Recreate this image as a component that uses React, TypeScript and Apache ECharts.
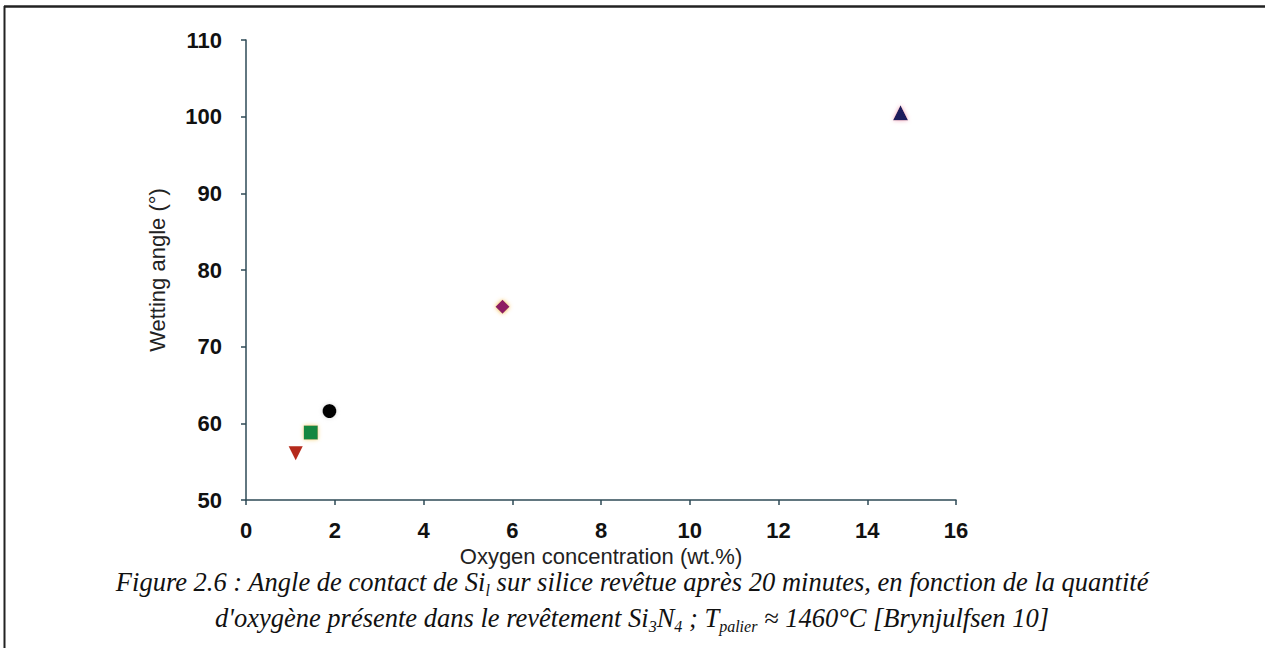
import React, { useEffect, useRef } from "react";
import * as echarts from "echarts";

const xTicks = [0, 2, 4, 6, 8, 10, 12, 14, 16];
const yTicks = [50, 60, 70, 80, 90, 100, 110];

const seriesNames = ["invTriangle", "square", "circle", "diamond", "triangle"];
const xValues = [1.12, 1.46, 1.88, 5.78, 14.75];
const yValues = [56.1, 58.8, 61.6, 75.2, 100.5];
const symbols = ["triangle", "rect", "circle", "diamond", "triangle"];
const rotations = [180, 0, 0, 0, 0];
const sizes = [14, 14, 14, 14, 15];
const colors = ["#b52a1f", "#13873f", "#050505", "#8e1b63", "#1b1c5c"];
const glows = ["#f2a08c", "#f5d27a", "#d8d8d8", "#f5b33a", "#f2a0b8"];

const xAxisName = "Oxygen concentration (wt.%)";
const yAxisName = "Wetting angle (°)";

export default function App() {
  const ref = useRef<HTMLDivElement>(null);
  useEffect(() => {
    const chart = echarts.init(ref.current!, null, { renderer: "svg" });
    const axisColor = "#2e4a56";
    const serif = "Liberation Serif, Times New Roman";
    const sans = "Liberation Sans, Arial";
    chart.setOption({
      animation: false,
      backgroundColor: "#ffffff",
      grid: { left: 246, top: 40, right: 309, bottom: 148, containLabel: false },
      xAxis: {
        type: "value",
        min: 0,
        max: 16,
        interval: 2,
        name: xAxisName,
        nameLocation: "middle",
        nameGap: 41,
        nameTextStyle: { fontFamily: sans, fontSize: 22, color: "#222" },
        axisLine: { show: true, onZero: false, lineStyle: { color: axisColor, width: 1.5 } },
        axisTick: { show: true, inside: false, length: 5, lineStyle: { color: axisColor, width: 1.5 } },
        axisLabel: {
          formatter: (v: number) => (xTicks.includes(v) ? String(v) : ""),
          fontFamily: sans,
          fontWeight: "bold",
          fontSize: 22,
          color: "#111",
          margin: 19,
        },
        splitLine: { show: false },
      },
      yAxis: {
        type: "value",
        min: 50,
        max: 110,
        interval: 10,
        name: yAxisName,
        nameLocation: "middle",
        nameGap: 78,
        nameTextStyle: { fontFamily: sans, fontSize: 22, color: "#222" },
        axisLine: { show: true, onZero: false, lineStyle: { color: axisColor, width: 1.5 } },
        axisTick: { show: true, inside: false, length: 5, lineStyle: { color: axisColor, width: 1.5 } },
        axisLabel: {
          formatter: (v: number) => (yTicks.includes(v) ? String(v) : ""),
          fontFamily: sans,
          fontWeight: "bold",
          fontSize: 22,
          color: "#111",
          margin: 24,
        },
        splitLine: { show: false },
      },
      series: seriesNames.map((name, i) => ({
        name,
        type: "scatter",
        symbol: symbols[i],
        symbolRotate: rotations[i],
        symbolSize: sizes[i],
        itemStyle: {
          color: colors[i],
          opacity: 1,
          shadowColor: glows[i],
          shadowBlur: 4,
        },
        data: [[xValues[i], yValues[i]]],
      })),
      graphic: [
        {
          type: "line",
          shape: { x1: 4, y1: 6.5, x2: 1265, y2: 6.5 },
          style: { stroke: "#222", lineWidth: 2.5 },
        },
        {
          type: "line",
          shape: { x1: 4.5, y1: 6, x2: 4.5, y2: 648 },
          style: { stroke: "#222", lineWidth: 2 },
        },
        {
          type: "text",
          x: 632,
          y: 582,
          style: {
            text: "{m|Figure 2.6 : Angle de contact de Si}{s|l}{m| sur silice revêtue après 20 minutes, en fonction de la quantité}",
            align: "center",
            verticalAlign: "middle",
            fill: "#111",
            rich: {
              m: { fontFamily: serif, fontStyle: "italic", fontSize: 26.5, lineHeight: 32, verticalAlign: "middle", fill: "#111" },
              s: { fontFamily: serif, fontStyle: "italic", fontSize: 16, lineHeight: 22, verticalAlign: "bottom", fill: "#111" },
            },
          },
        },
        {
          type: "text",
          x: 632,
          y: 618,
          style: {
            text: "{m|d'oxygène présente dans le revêtement Si}{s|3}{m|N}{s|4}{m| ; T}{s|palier}{m| ≈ 1460°C [Brynjulfsen 10]}",
            align: "center",
            verticalAlign: "middle",
            fill: "#111",
            rich: {
              m: { fontFamily: serif, fontStyle: "italic", fontSize: 26.5, lineHeight: 32, verticalAlign: "middle", fill: "#111" },
              s: { fontFamily: serif, fontStyle: "italic", fontSize: 16, lineHeight: 22, verticalAlign: "bottom", fill: "#111" },
            },
          },
        },
      ],
    });
    return () => chart.dispose();
  }, []);
  return (
    <div
      ref={ref}
      style={{ position: "fixed", left: 0, top: 0, width: 1265, height: 648, background: "#fff" }}
    />
  );
}
